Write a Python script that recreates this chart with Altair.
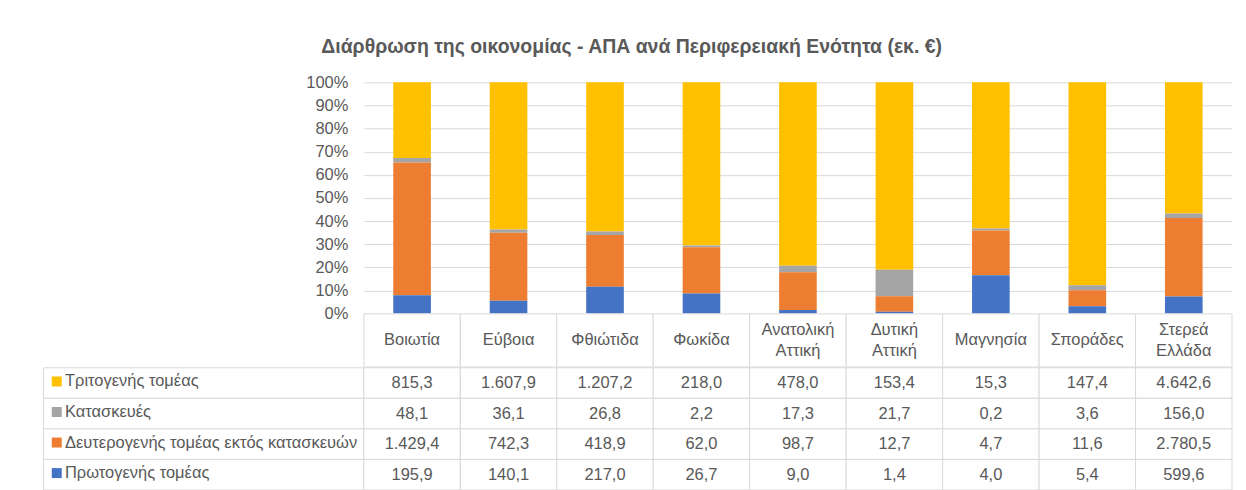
import altair as alt
import pandas as pd

# ---------------- data ----------------
categories = ["Βοιωτία", "Εύβοια", "Φθιώτιδα", "Φωκίδα", "Ανατολική Αττική",
              "Δυτική Αττική", "Μαγνησία", "Σποράδες", "Στερεά Ελλάδα"]
series = ["Τριτογενής τομέας", "Κατασκευές",
          "Δευτερογενής τομέας εκτός κατασκευών", "Πρωτογενής τομέας"]
tertiary = [815.3, 1607.9, 1207.2, 218.0, 478.0, 153.4, 15.3, 147.4, 4642.6]
construction = [48.1, 36.1, 26.8, 2.2, 17.3, 21.7, 0.2, 3.6, 156.0]
secondary = [1429.4, 742.3, 418.9, 62.0, 98.7, 12.7, 4.7, 11.6, 2780.5]
primary = [195.9, 140.1, 217.0, 26.7, 9.0, 1.4, 4.0, 5.4, 599.6]
colors = ["#FFC000", "#A5A5A5", "#ED7D31", "#4472C4"]
y_ticks = [0, 0.1, 0.2, 0.3, 0.4, 0.5, 0.6, 0.7, 0.8, 0.9, 1.0]
title_text = "Διάρθρωση της οικονομίας - ΑΠΑ ανά Περιφερειακή Ενότητα (εκ. €)"

values_by_series = [tertiary, construction, secondary, primary]
rows = []
for s_idx, (s, vals) in enumerate(zip(series, values_by_series)):
    for c, v in zip(categories, vals):
        rows.append({"category": c, "series": s, "value": v,
                     "rank": len(series) - 1 - s_idx})
df = pd.DataFrame(rows)
label_df = pd.DataFrame({"series": series})
cat_df = pd.DataFrame({"category": categories})

# ---------------- style ----------------
FONT = "Liberation Sans"
TEXT = "#595959"
GRID = "#D9D9D9"
FS = 16.5
W = 870
H = 231.7
HEADER = 53.3
TABLE_H = 122.5
LABEL_W = 321
HALF_LINE = 10.85

xband = alt.Scale(domain=categories, paddingInner=0, paddingOuter=0)
yband = alt.Scale(domain=series, paddingInner=0, paddingOuter=0)

color = alt.Color(
    "series:N",
    scale=alt.Scale(domain=series, range=colors),
    legend=alt.Legend(
        orient="none", legendX=5, legendY=291.5, title=None,
        symbolType="square", symbolSize=100, symbolStrokeWidth=0,
        labelFontSize=FS, labelColor=TEXT, labelFont=FONT,
        labelOffset=0, rowPadding=13.6, padding=0, labelLimit=400,
    ),
)

bars = alt.Chart(df).mark_bar(width={"band": 0.39}).encode(
    x=alt.X("category:N", scale=xband, axis=None),
    y=alt.Y(
        "value:Q", stack="normalize",
        scale=alt.Scale(domain=[0, 1]),
        axis=alt.Axis(
            title=None, format=".0%", values=y_ticks, grid=True,
            gridColor=GRID, domain=False, ticks=False, labelPadding=16,
            labelFontSize=FS, labelColor=TEXT, labelFont=FONT,
        ),
    ),
    color=color,
    order=alt.Order("rank:Q", sort="ascending"),
).properties(width=W, height=H)

# header row of the data table (category names)
hx = alt.X("category:N", scale=xband, axis=None)
head_cells = alt.Chart(cat_df).mark_rect(
    fill="white", stroke=GRID, strokeWidth=1
).encode(x=hx)
head_single = alt.Chart(cat_df).transform_filter(
    "indexof(datum.category, ' ') < 0"
).mark_text(fontSize=FS, color=TEXT, font=FONT, baseline="middle").encode(
    x=hx, text="category:N"
)
head_top = alt.Chart(cat_df).transform_filter(
    "indexof(datum.category, ' ') >= 0"
).transform_calculate(
    word="split(datum.category, ' ')[0]"
).mark_text(fontSize=FS, color=TEXT, font=FONT, baseline="middle",
            dy=-HALF_LINE).encode(x=hx, text="word:N")
head_bottom = alt.Chart(cat_df).transform_filter(
    "indexof(datum.category, ' ') >= 0"
).transform_calculate(
    word="split(datum.category, ' ')[1]"
).mark_text(fontSize=FS, color=TEXT, font=FONT, baseline="middle",
            dy=HALF_LINE).encode(x=hx, text="word:N")
header = (head_cells + head_single + head_top + head_bottom).properties(
    width=W, height=HEADER)

blank_top = alt.Chart(label_df).mark_point(opacity=0).encode(
    x=alt.value(0), y=alt.value(0)
).properties(width=LABEL_W, height=H)
blank_mid = alt.Chart(label_df).mark_point(opacity=0).encode(
    x=alt.value(0), y=alt.value(0)
).properties(width=LABEL_W, height=HEADER)

label_cells = alt.Chart(label_df).mark_rect(
    fill="white", stroke=GRID, strokeWidth=1
).encode(
    y=alt.Y("series:N", scale=yband, axis=None),
).properties(width=LABEL_W, height=TABLE_H)

cells = alt.Chart(df).mark_rect(fill="white", stroke=GRID, strokeWidth=1).encode(
    x=alt.X("category:N", scale=xband, axis=None),
    y=alt.Y("series:N", scale=yband, axis=None),
)
vals = alt.Chart(df).mark_text(fontSize=FS, color=TEXT, font=FONT).encode(
    x=alt.X("category:N", scale=xband, axis=None),
    y=alt.Y("series:N", scale=yband, axis=None),
    text=alt.Text("value:Q", format=",.1f"),
)
table = (cells + vals).properties(width=W, height=TABLE_H)

chart = alt.concat(
    blank_top, bars, blank_mid, header, label_cells, table,
    columns=2, spacing=0,
    bounds="flush", align="each",
).properties(
    title=alt.Title(
        text=title_text, fontSize=19.5, fontWeight="bold", font=FONT,
        color=TEXT, anchor="middle", offset=16.7, dx=-5,
    ),
    padding={"left": 32.6, "top": 28, "right": 5, "bottom": 0},
).configure(
    locale={"number": {"decimal": ",", "thousands": ".", "grouping": [3],
                       "currency": ["", " €"]}},
).configure_view(strokeWidth=0)

chart.save("out.html", embed_options={"renderer": "svg", "actions": False})
